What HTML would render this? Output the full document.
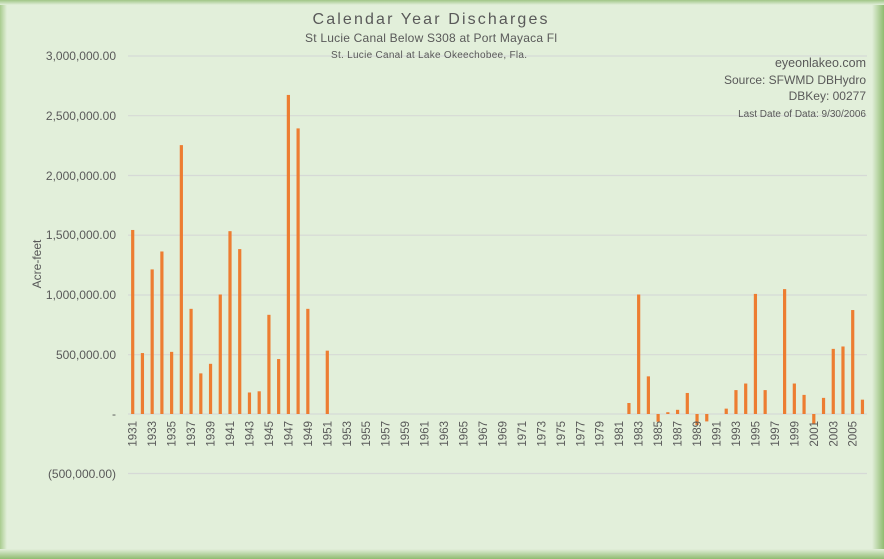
<!DOCTYPE html>
<html><head><meta charset="utf-8"><style>
html,body{margin:0;padding:0;}
body{width:884px;height:559px;overflow:hidden;background:#e2efda;}
svg{display:block;font-family:"Liberation Sans",sans-serif;}
</style></head><body>
<svg width="884" height="559" viewBox="0 0 884 559" xmlns="http://www.w3.org/2000/svg">
<defs>
<linearGradient id="lg" x1="0" x2="1"><stop offset="0" stop-color="#a9cc8f"/><stop offset="1" stop-color="#e2efda"/></linearGradient>
<linearGradient id="rg" x1="1" x2="0"><stop offset="0" stop-color="#8fbb70"/><stop offset="1" stop-color="#e2efda"/></linearGradient>
<linearGradient id="tg" y1="0" y2="1" x1="0" x2="0"><stop offset="0" stop-color="#9fc585"/><stop offset="1" stop-color="#e2efda"/></linearGradient>
<linearGradient id="bg" y1="1" y2="0" x1="0" x2="0"><stop offset="0" stop-color="#8fbb70"/><stop offset="1" stop-color="#e2efda"/></linearGradient>
</defs>
<rect width="884" height="559" fill="#e2efda"/>
<rect x="0" y="0" width="7" height="559" fill="url(#lg)"/>
<rect x="872" y="0" width="12" height="559" fill="url(#rg)"/>
<rect x="0" y="0" width="884" height="5" fill="url(#tg)"/>
<rect x="0" y="549" width="884" height="10" fill="url(#bg)"/>
<g stroke="#d6d9d6" stroke-width="1.2">
<line x1="128" x2="867" y1="56" y2="56"/><line x1="128" x2="867" y1="115.7" y2="115.7"/>
<line x1="128" x2="867" y1="175.5" y2="175.5"/><line x1="128" x2="867" y1="235.2" y2="235.2"/>
<line x1="128" x2="867" y1="295" y2="295"/><line x1="128" x2="867" y1="354.7" y2="354.7"/>
<line x1="128" x2="867" y1="414" y2="414"/><line x1="128" x2="867" y1="473.5" y2="473.5"/>
</g>
<g font-size="12" fill="#595959" text-anchor="end">
<text x="116" y="60">3,000,000.00</text><text x="116" y="120">2,500,000.00</text>
<text x="116" y="180">2,000,000.00</text><text x="116" y="239">1,500,000.00</text>
<text x="116" y="299">1,000,000.00</text><text x="116" y="359">500,000.00</text>
<text x="116" y="418">-</text><text x="116" y="478">(500,000.00)</text>
</g>
<text transform="translate(41,264) rotate(-90)" font-size="12" fill="#595959" text-anchor="middle">Acre-feet</text>
<g fill="#595959" text-anchor="middle">
<text x="430" y="24" font-size="16" textLength="235">Calendar Year Discharges</text>
<text x="431" y="42" font-size="12" textLength="252">St Lucie Canal Below S308 at Port Mayaca Fl</text>
<text x="429" y="58" font-size="10" textLength="196">St. Lucie Canal at Lake Okeechobee, Fla.</text>
</g>
<g fill="#595959" text-anchor="end">
<text x="866" y="67" font-size="12.5">eyeonlakeo.com</text>
<text x="866" y="84" font-size="12">Source: SFWMD DBHydro</text>
<text x="866" y="100" font-size="12">DBKey: 00277</text>
<text x="866" y="117" font-size="10">Last Date of Data: 9/30/2006</text>
</g>
<g id="bars" fill="#ed7d31"></g>
<g id="labels" font-size="11.5" fill="#595959" text-anchor="end"></g>
<script>
var v={1931:1540,1932:510,1933:1210,1934:1360,1935:520,1936:2250,1937:880,1938:340,1939:420,1940:1000,1941:1530,1942:1380,1943:180,1944:190,1945:830,1946:460,1947:2670,1948:2390,1949:880,1951:530,1982:92,1983:1000,1984:315,1985:-65,1986:15,1987:35,1988:176,1989:-92,1990:-62,1992:45,1993:200,1994:255,1995:1005,1996:200,1998:1045,1999:255,2000:160,2001:-85,2002:135,2003:545,2004:565,2005:870,2006:120};
var b=document.getElementById('bars'),l=document.getElementById('labels'),ns="http://www.w3.org/2000/svg";
for(var y=1931;y<=2006;y++){var x=132.7+(y-1931)*9.73;
if(v[y]){var h=v[y]*0.1195;var r=document.createElementNS(ns,'rect');r.setAttribute('x',x-1.6);r.setAttribute('width',3.2);
r.setAttribute('y',h>0?414-h:414);r.setAttribute('height',Math.abs(h));b.appendChild(r);}
if((y-1931)%2==0){var t=document.createElementNS(ns,'text');t.setAttribute('transform','translate('+(x+4)+',421) rotate(-90)');t.textContent=y;l.appendChild(t);}}
</script>
</svg>
</body></html>
